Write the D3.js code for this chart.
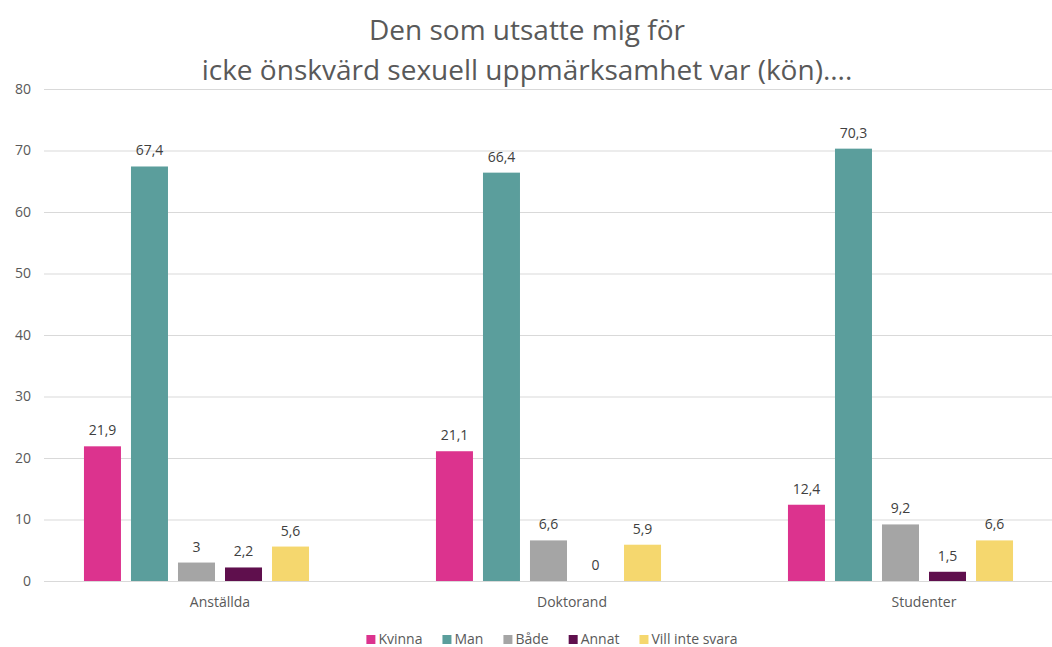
<!DOCTYPE html>
<meta charset="utf-8">
<style>
    body { margin: 0; background: #fff; }
    text { font-family: "Open Sans", "Liberation Sans", sans-serif; }
    .grid line { stroke: #d9d9d9; }
    .tick text { fill: #595959; font-size: 14px; }
    .val { fill: #404040; font-size: 14px; text-anchor: middle; }
    .legend text { fill: #595959; font-size: 14px; }
</style>
<body>
<div id="chart"></div>
<script src="https://cdn.jsdelivr.net/npm/d3@7"></script>
<script>
    var width = 1052,
        height = 647

    var categories = ["Anställda", "Doktorand", "Studenter"]
    var series = ["Kvinna", "Man", "Både", "Annat", "Vill inte svara"]
    var colors = ["#dc338e", "#5b9e9c", "#a5a5a5", "#5f0f4d", "#f5d76e"]
    // one value per category, in series order
    var kvinna = [21.9, 21.1, 12.4]
    var man = [67.4, 66.4, 70.3]
    var bade = [3, 6.6, 9.2]
    var annat = [2.2, 0, 1.5]
    var vill = [5.6, 5.9, 6.6]
    var yTicks = [0, 10, 20, 30, 40, 50, 60, 70, 80]
    var titleLines = ["Den som utsatte mig för", "icke önskvärd sexuell uppmärksamhet var (kön)...."]

    var values = [kvinna, man, bade, annat, vill]

    var svg = d3.select("#chart").append("svg")
        .attr("width", width)
        .attr("height", height);

    var x = d3.scaleBand().domain(categories).range([44, 1100]);
    // excel keeps a sixth, empty slot in every group
    var slots = series.concat(["_empty"]);
    var x1 = d3.scaleBand().domain(slots).range([0, x.bandwidth()])
        .paddingInner(0.213).paddingOuter(0.85);
    var y = d3.scaleLinear().domain([0, 80]).range([581, 89]);

    // title
    svg.selectAll(".title")
        .data(titleLines)
        .enter().append("text")
        .attr("class", "title")
        .attr("x", 527)
        .attr("y", function (d, i) { return 40 + i * 40; })
        .attr("text-anchor", "middle")
        .style("font-size", "28px")
        .style("fill", "#595959")
        .text(function (d) { return d; });

    // grid + y labels
    var yAxis = svg.append("g")
        .attr("class", "grid")
        .attr("transform", "translate(44,0)")
        .call(d3.axisLeft(y).tickValues(yTicks).tickSize(-1056).tickPadding(14));
    yAxis.select(".domain").remove();
    yAxis.selectAll(".tick text").attr("x", -13);

    var xAxis = svg.append("g")
        .attr("transform", "translate(0,581)")
        .call(d3.axisBottom(x).tickSize(0).tickPadding(16));
    xAxis.select(".domain").remove();

    var groups = svg.selectAll(".group")
        .data(categories)
        .enter().append("g")
        .attr("transform", function (d) { return "translate(" + x(d) + ",0)"; });

    groups.each(function (cat, ci) {
        var g = d3.select(this);
        series.forEach(function (s, si) {
            var v = values[si][ci];
            g.append("rect")
                .attr("x", x1(s))
                .attr("y", y(v))
                .attr("width", x1.bandwidth())
                .attr("height", y(0) - y(v))
                .attr("fill", colors[si]);
            g.append("text")
                .attr("class", "val")
                .attr("x", x1(s) + x1.bandwidth() / 2)
                .attr("y", y(v) - 11)
                .text(String(v).replace(".", ","));
        });
    });

    // legend
    var legend = svg.append("g").attr("class", "legend");
    var items = legend.selectAll("g")
        .data(series)
        .enter().append("g");
    items.append("rect")
        .attr("width", 9)
        .attr("height", 9)
        .attr("y", 635)
        .attr("fill", function (d, i) { return colors[i]; });
    items.append("text")
        .attr("x", 12)
        .attr("y", 644)
        .text(function (d) { return d; });

    var pos = 0, offsets = [];
    items.each(function () {
        offsets.push(pos);
        pos += 12 + this.querySelector("text").getComputedTextLength() + 20;
    });
    var total = pos - 20;
    var start = 552 - total / 2;
    items.attr("transform", function (d, i) { return "translate(" + (start + offsets[i]) + ",0)"; });
</script>
</body>
